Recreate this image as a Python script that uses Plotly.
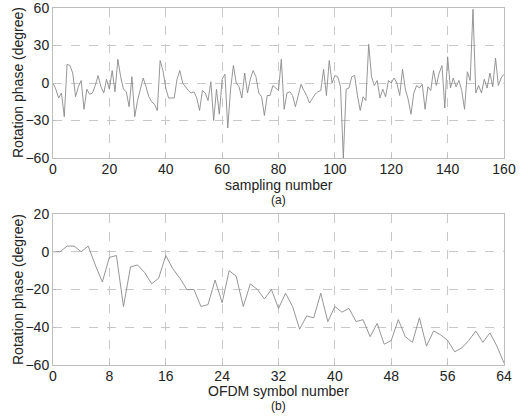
import plotly.graph_objects as go

# Top panel (a): rotation phase vs sampling number
samp_x = list(range(0, 161))
samp_y = [0, -5, -12, -8, -27, 15, 14, 8, -11, -3,
          2, -21, -5, -9, -8, -2, 6, -3, -8, 3,
          -5, 10, -7, 19, 5, -5, -7, -19, 5, -27,
          -14, -5, 4, -3, -11, -15, -17, -22, 18, 10,
          -4, -12, -12, -12, 3, 10, 0, -3, -6, -8,
          -7, -12, -22, -6, -8, -14, 1, -30, -5, -25,
          3, 7, -36, -5, 14, 0, -3, -12, 8, -8,
          3, 10, 5, -8, -11, -26, -10, -10, -2, -4,
          -6, 19, -21, -8, -7, -10, -19, -10, -1, -6,
          -10, -16, -12, -9, -7, -6, 11, -10, 18, 0,
          6, 5, -3, -60, -5, -4, 5, 6, -10, -22,
          -11, -14, 31, 5, -2, 2, -12, -5, -11, 2,
          0, 4, 0, -10, 11, -5, -13, -25, -8, -2,
          -4, -1, -21, -3, -6, 10, -2, 8, 14, -20,
          21, -4, 4, -3, 2, -6, -21, 9, 2, 59,
          -8, -2, -8, 3, -4, 8, -3, 20, -2, 4, 7]

# Bottom panel (b): rotation phase vs OFDM symbol number
ofdm_x = list(range(0, 65))
ofdm_y = [0, 0, 3, 3, 0, 3, -7, -16, -3, -2,
          -29, -8, -7, -11, -17, -14, -2, -9, -14, -20,
          -20, -29, -28, -15, -27, -10, -13, -29, -17, -20,
          -25, -20, -30, -22, -29, -41, -34, -35, -22, -37,
          -29, -32, -30, -37, -36, -45, -38, -49, -47, -36,
          -45, -48, -35, -50, -42, -44, -47, -53, -51, -47,
          -42, -48, -43, -50, -59]

top_xticks = [0, 20, 40, 60, 80, 100, 120, 140, 160]
top_yticks = [-60, -30, 0, 30, 60]
bot_xticks = [0, 8, 16, 24, 32, 40, 48, 56, 64]
bot_yticks = [-60, -40, -20, 0, 20]

line_col = "#8a8a8a"
grid_col = "#c8c8c8"
frame_col = "#bdbdbd"
txt_col = "#222222"
font_family = "Liberation Sans, Arial, sans-serif"

fig = go.Figure()
fig.add_trace(go.Scatter(x=samp_x, y=samp_y, mode="lines",
                         line=dict(color=line_col, width=0.9),
                         xaxis="x", yaxis="y", showlegend=False))
fig.add_trace(go.Scatter(x=ofdm_x, y=ofdm_y, mode="lines",
                         line=dict(color=line_col, width=0.9),
                         xaxis="x2", yaxis="y2", showlegend=False))

ax_common = dict(showgrid=True, gridcolor=grid_col, griddash="dash", gridwidth=1,
                 zeroline=False, showline=True, mirror=True, linecolor=frame_col,
                 linewidth=1, ticks="inside", ticklen=3, tickcolor=frame_col,
                 automargin=False, ticklabeloverflow="allow",
                 tickfont=dict(size=14, color=txt_col, family=font_family))

L, R, T, B = 53, 24, 8, 53
W, H = 528, 418
plot_h = H - T - B
plot_w = W - L - R

def py(pix):
    """pixel row (from top) -> paper y"""
    return (H - B - pix) / plot_h

fig.update_layout(
    width=W, height=H,
    margin=dict(l=L, r=R, t=T, b=B),
    paper_bgcolor="white", plot_bgcolor="white",
    font=dict(family=font_family, color=txt_col),
    xaxis=dict(domain=[0, 1], anchor="y", range=[0, 160], tickvals=top_xticks,
               ticklabelstandoff=-2, **ax_common),
    yaxis=dict(domain=[py(158), 1], anchor="x", range=[-60, 60], tickvals=top_yticks, **ax_common),
    xaxis2=dict(domain=[0, 1], anchor="y2", range=[0, 64], tickvals=bot_xticks,
                ticklabelstandoff=-2, **ax_common),
    yaxis2=dict(domain=[0, py(214)], anchor="x2", range=[-60, 20], tickvals=bot_yticks, **ax_common),
)

ann = [
    ("sampling number", 0.5, py(185), 0, 14),
    ("(a)", 0.5, py(200), 0, 12),
    ("OFDM symbol number", 0.5, py(391), 0, 14),
    ("(b)", 0.5, py(406), 0, 12),
    ("Rotation phase (degree)", (18 - L) / plot_w, py(83), -90, 14),
    ("Rotation phase (degree)", (18 - L) / plot_w, py(290), -90, 14),
]
for text, x, y, ang, size in ann:
    fig.add_annotation(text=text, x=x, y=y, xref="paper", yref="paper",
                       xanchor="center", yanchor="middle", showarrow=False,
                       textangle=ang, font=dict(size=size, color=txt_col))

fig.write_html("out.html", config={"displayModeBar": False},
               post_script="document.body.style.margin='0';document.body.style.overflow='hidden';")
